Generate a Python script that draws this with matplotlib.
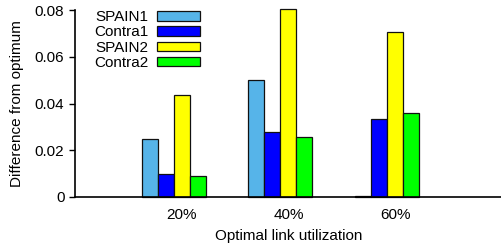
import numpy as np
import matplotlib.pyplot as plt

plt.rcParams['font.family'] = ['Liberation Sans', 'DejaVu Sans']

########## Data ##########
utilization = ['20%', '40%', '60%']
series      = ['SPAIN1', 'Contra1', 'SPAIN2', 'Contra2']
spain1  = [0.025, 0.050, 0.0005]
contra1 = [0.010, 0.028, 0.0335]
spain2  = [0.0435, 0.0805, 0.0705]
contra2 = [0.009, 0.0255, 0.036]
values  = [spain1, contra1, spain2, contra2]
colors  = ['#56b4e9', '#0000ff', '#ffff00', '#00ff00']

yticks      = [0, 0.02, 0.04, 0.06, 0.08]
ytick_names = ['0', '0.02', '0.04', '0.06', '0.08']

########## Plot ##########
width = 0.15
x_pos = np.arange(1, len(utilization) + 1)
group = x_pos - 0.075

fig = plt.figure(figsize=(5.02, 2.5), dpi=100)
ax  = fig.add_axes([0.149, 0.212, 0.851, 0.748])

for i in range(len(series)):
    ax.bar(group + (i - 1.5) * width, values[i], width, color=colors[i],
           edgecolor='#111111', linewidth=0.9, label=series[i], clip_on=False)

ax.set_xlim(0, 4)
ax.set_ylim(0, 0.08)
ax.set_xticks(x_pos)
ax.set_xticklabels(utilization)
ax.set_yticks(yticks)
ax.set_yticklabels(ytick_names)
ax.tick_params(axis='x', length=0, labelsize=11, pad=8)
ax.tick_params(axis='y', length=4, width=1, labelsize=11)
ax.spines['top'].set_visible(False)
ax.spines['right'].set_visible(False)
ax.spines['left'].set_linewidth(1.2)
ax.spines['bottom'].set_linewidth(1.2)

ax.set_xlabel('Optimal link utilization', fontsize=11, labelpad=5)
ax.set_ylabel('Difference from optimum', fontsize=11, labelpad=8)

ax.legend(loc='upper left', bbox_to_anchor=(0.02, 1.055), frameon=False,
          markerfirst=False, fontsize=11, handlelength=2.8, handleheight=0.55,
          labelspacing=0.07, handletextpad=0.6, borderpad=0.2)

fig.savefig('out.png', dpi=100)
